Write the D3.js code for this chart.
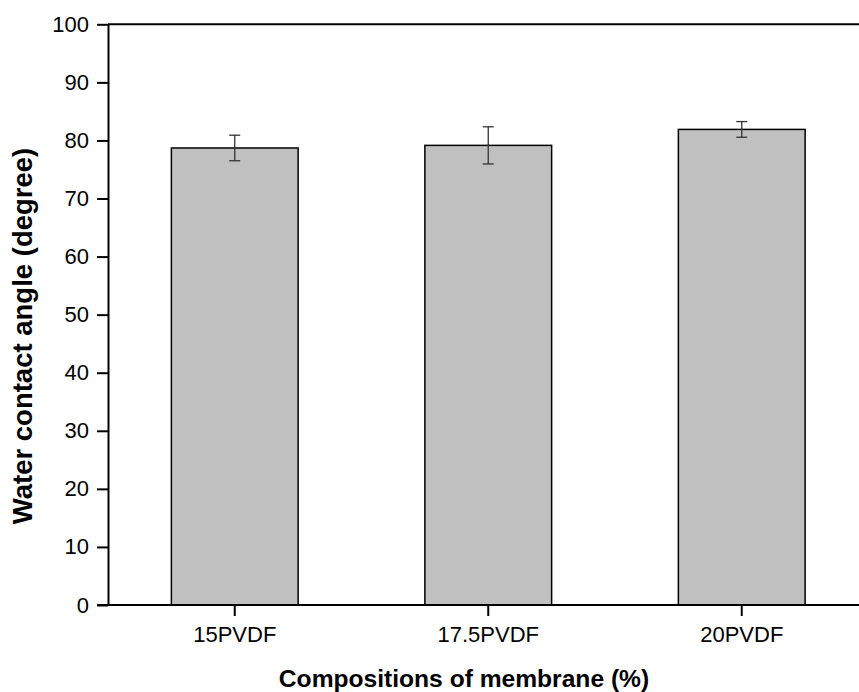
<!DOCTYPE html>
<html>
<head>
<meta charset="utf-8">
<script src="https://cdn.jsdelivr.net/npm/d3@7"></script>
<style>
  html, body { margin: 0; padding: 0; background: #fff; }
  svg { display: block; font-family: Arial, "Liberation Sans", sans-serif; }
</style>
</head>
<body>
<svg id="chart" width="859" height="692"></svg>
<script>
// Water contact angle of PVDF membranes
const categories = ["15PVDF", "17.5PVDF", "20PVDF"];
const angles = [78.7, 79.15, 81.9];
const errors = [2.2, 3.2, 1.35];
const yTicks = [0, 10, 20, 30, 40, 50, 60, 70, 80, 90, 100];

const svg = d3.select("#chart");
const plotLeft = 108, plotRight = 868.5, plotTop = 24.3, plotBottom = 605;

const x = d3.scaleBand()
  .domain(categories)
  .range([plotLeft, plotRight])
  .paddingInner(0.5)
  .paddingOuter(0.25);

const y = d3.scaleLinear().domain([0, 100]).range([plotBottom, plotTop]);

// frame line along the top
svg.append("line")
  .attr("x1", plotLeft).attr("x2", 859)
  .attr("y1", y(100)).attr("y2", y(100))
  .attr("stroke", "#000").attr("stroke-width", 2);

// bars
svg.append("g").selectAll("rect")
  .data(categories)
  .join("rect")
  .attr("x", d => x(d))
  .attr("width", x.bandwidth())
  .attr("y", (d, i) => y(angles[i]))
  .attr("height", (d, i) => y(0) - y(angles[i]))
  .attr("fill", "#c0c0c0")
  .attr("stroke", "#000")
  .attr("stroke-width", 1.5);

// error bars
const eb = svg.append("g").attr("stroke", "#333").attr("stroke-width", 1.3);
categories.forEach((c, i) => {
  const cx = x(c) + x.bandwidth() / 2;
  const hi = y(angles[i] + errors[i]);
  const lo = y(angles[i] - errors[i]);
  eb.append("line").attr("x1", cx).attr("x2", cx).attr("y1", hi).attr("y2", lo);
  eb.append("line").attr("x1", cx - 5.5).attr("x2", cx + 5.5).attr("y1", hi).attr("y2", hi);
  eb.append("line").attr("x1", cx - 5.5).attr("x2", cx + 5.5).attr("y1", lo).attr("y2", lo);
});

// y axis
const yAxis = svg.append("g")
  .attr("transform", `translate(${plotLeft},0)`)
  .call(d3.axisLeft(y).tickValues(yTicks).tickSize(11).tickPadding(8).tickSizeOuter(0));
yAxis.attr("font-size", null).attr("font-family", null);
yAxis.select(".domain").attr("stroke-width", 2);
yAxis.selectAll(".tick line").attr("stroke-width", 2);
yAxis.selectAll(".tick text")
  .style("font-size", "22px").attr("fill", "#000");

// x axis
const xAxis = svg.append("g")
  .attr("transform", `translate(0,${plotBottom})`)
  .call(d3.axisBottom(x).tickSize(11).tickPadding(10).tickSizeOuter(0));
xAxis.attr("font-size", null).attr("font-family", null);
xAxis.select(".domain").attr("d", `M${plotLeft - 11},0H859`).attr("stroke-width", 2);
xAxis.selectAll(".tick line").attr("stroke-width", 2);
xAxis.selectAll(".tick text")
  .style("font-size", "22px").attr("fill", "#000");

// axis titles
svg.append("text")
  .attr("x", 464).attr("y", 687)
  .attr("text-anchor", "middle")
  .style("font-size", "24.6px").attr("font-weight", "bold")
  .text("Compositions of membrane (%)");

svg.append("text")
  .attr("transform", "translate(32,336) rotate(-90)")
  .attr("text-anchor", "middle")
  .style("font-size", "27.5px").attr("font-weight", "bold")
  .text("Water contact angle (degree)");
</script>
</body>
</html>
